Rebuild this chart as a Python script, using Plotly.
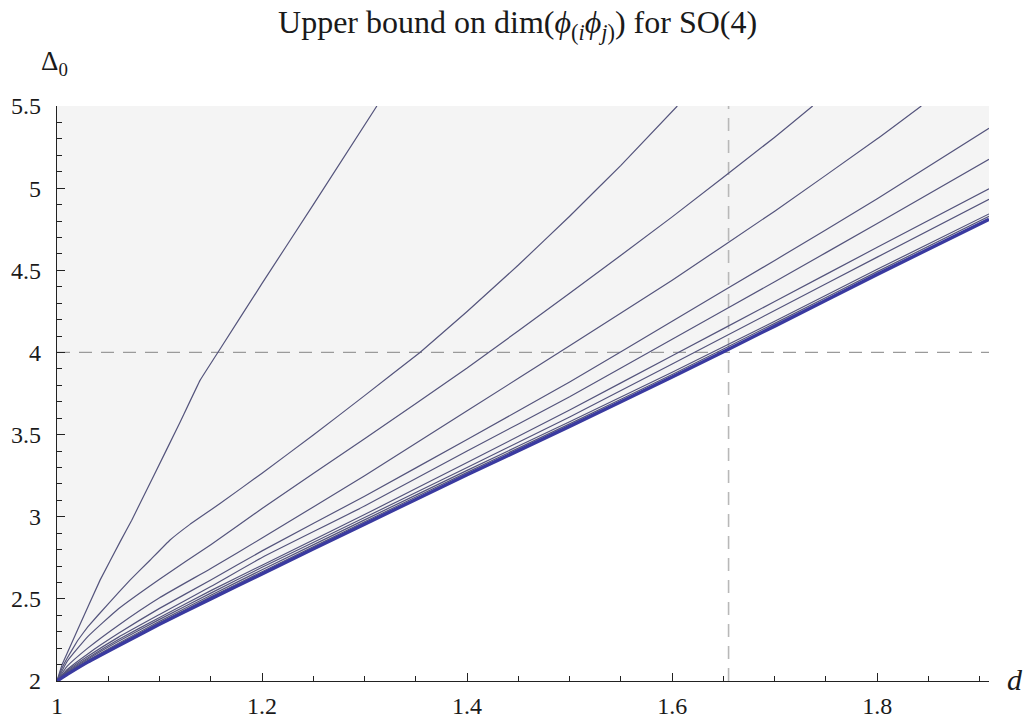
import plotly.graph_objects as go

# ---------------- data ----------------
X_MIN, X_MAX = 1.0, 1.909
Y_MIN, Y_MAX = 2.0, 5.5
D_STAR = 1.655
DELTA_STAR = 4.0

x_tickvals = [1, 1.2, 1.4, 1.6, 1.8]
x_ticktext = ["1", "1.2", "1.4", "1.6", "1.8"]
y_tickvals = [2, 2.5, 3, 3.5, 4, 4.5, 5, 5.5]
y_ticktext = ["2", "2.5", "3", "3.5", "4", "4.5", "5", "5.5"]

# best bound (thick curve)
bound_d = [1.0, 1.01, 1.03, 1.06, 1.1, 1.15, 1.2, 1.3, 1.4, 1.5, 1.6, 1.7, 1.8, 1.909]
bound_delta = [2.0, 2.04, 2.115, 2.215, 2.345, 2.50, 2.652, 2.955, 3.255, 3.55, 3.85, 4.16, 4.475, 4.81]

# weaker bounds (thin curves)
c1_d = [1.0, 1.005, 1.01, 1.02, 1.042, 1.0615, 1.0729, 1.094, 1.12, 1.1395, 1.16, 1.2, 1.25, 1.312]
c1_delta = [2.0, 2.1, 2.17, 2.31, 2.614, 2.847, 2.979, 3.245, 3.575, 3.83, 4.03, 4.42, 4.90, 5.5]

c2_d = [1.0, 1.005, 1.01, 1.02, 1.03, 1.05, 1.0712, 1.0907, 1.11, 1.13, 1.159, 1.2, 1.25, 1.3,
        1.354, 1.4, 1.45, 1.5, 1.55, 1.605]
c2_delta = [2.0, 2.08, 2.14, 2.245, 2.33, 2.47, 2.614, 2.735, 2.857, 2.955, 3.08, 3.265, 3.497,
            3.737, 4.0, 4.249, 4.532, 4.829, 5.139, 5.5]

c3_d = [1.0, 1.01, 1.03, 1.06, 1.1, 1.15, 1.2, 1.3, 1.4, 1.5, 1.6, 1.7, 1.737]
c3_delta = [2.0, 2.12, 2.27, 2.44, 2.62, 2.83, 3.05, 3.475, 3.905, 4.36, 4.825, 5.31, 5.5]

c4_d = [1.0, 1.01, 1.03, 1.06, 1.1, 1.15, 1.2, 1.3, 1.4, 1.5, 1.6, 1.7, 1.8, 1.843]
c4_delta = [2.0, 2.09, 2.20, 2.34, 2.507, 2.685, 2.87, 3.25, 3.645, 4.04, 4.44, 4.86, 5.30, 5.5]

common_d = [1.0, 1.01, 1.03, 1.06, 1.1, 1.15, 1.2, 1.3, 1.4, 1.5, 1.6, 1.7, 1.8, 1.909]
c5_delta = [2.0, 2.07, 2.165, 2.29, 2.442, 2.615, 2.792, 3.125, 3.47, 3.82, 4.19, 4.56, 4.935, 5.364]
c6_delta = [2.0, 2.062, 2.15, 2.267, 2.405, 2.575, 2.752, 3.065, 3.40, 3.73, 4.08, 4.43, 4.785, 5.175]
c7_delta = [2.0, 2.056, 2.14, 2.252, 2.387, 2.55, 2.705, 3.013, 3.33, 3.65, 3.98, 4.31, 4.64, 4.996]
c8_delta = [2.0, 2.052, 2.133, 2.242, 2.375, 2.535, 2.692, 2.995, 3.30, 3.607, 3.93, 4.255, 4.58, 4.932]
c9_delta = [2.0, 2.047, 2.125, 2.23, 2.363, 2.522, 2.677, 2.981, 3.282, 3.578, 3.879, 4.19, 4.506, 4.843]
c10_delta = [2.0, 2.043, 2.12, 2.223, 2.355, 2.512, 2.665, 2.969, 3.27, 3.565, 3.866, 4.177, 4.492, 4.828]

kinked_curves = [(c1_d, c1_delta), (c2_d, c2_delta)]
smooth_curves = [
    (c3_d, c3_delta), (c4_d, c4_delta),
    (common_d, c5_delta), (common_d, c6_delta), (common_d, c7_delta),
    (common_d, c8_delta), (common_d, c9_delta), (common_d, c10_delta),
]

# ---------------- style ----------------
FONT = "Liberation Serif, Times New Roman, DejaVu Serif, serif"
TEXT_COLOR = "#1a1a1a"
THIN_COLOR = "#54547c"
THICK_COLOR = "#3a3aa0"
FILL_COLOR = "#f4f4f4"

fig = go.Figure()

# excluded region (above best bound)
fig.add_trace(go.Scatter(x=bound_d, y=bound_delta, mode="lines",
                         line=dict(width=0, shape="spline", smoothing=0.4),
                         hoverinfo="skip", showlegend=False))
fig.add_trace(go.Scatter(x=bound_d, y=[Y_MAX] * len(bound_d), mode="lines",
                         line=dict(width=0), fill="tonexty", fillcolor=FILL_COLOR,
                         hoverinfo="skip", showlegend=False))

# dashed reference lines
fig.add_trace(go.Scatter(x=[X_MIN, X_MAX], y=[DELTA_STAR, DELTA_STAR], mode="lines",
                         line=dict(color="#9a9a9a", width=1.3, dash="13px,9px"),
                         hoverinfo="skip", showlegend=False))
fig.add_trace(go.Scatter(x=[D_STAR, D_STAR], y=[Y_MIN, Y_MAX], mode="lines",
                         line=dict(color="#b8b8b8", width=1.6, dash="13px,9px"),
                         hoverinfo="skip", showlegend=False))

for d, delta in kinked_curves:
    fig.add_trace(go.Scatter(x=d, y=delta, mode="lines",
                             line=dict(color=THIN_COLOR, width=1.2, shape="spline", smoothing=0.15),
                             showlegend=False))
for d, delta in smooth_curves:
    fig.add_trace(go.Scatter(x=d, y=delta, mode="lines",
                             line=dict(color=THIN_COLOR, width=1.2, shape="spline", smoothing=0.4),
                             showlegend=False))

fig.add_trace(go.Scatter(x=bound_d, y=bound_delta, mode="lines",
                         line=dict(color=THICK_COLOR, width=3.4, shape="spline", smoothing=0.4),
                         showlegend=False))

fig.update_layout(
    width=1029, height=718,
    margin=dict(l=57, r=40, t=106, b=37),
    paper_bgcolor="white", plot_bgcolor="white",
    font=dict(family=FONT, size=24, color=TEXT_COLOR),
    title=dict(
        text="Upper bound on dim(<i>ϕ</i><sub>(<i>i</i></sub><i>ϕ</i><sub><i>j</i>)</sub>) for SO(4)",
        x=0.503, xanchor="center", xref="container",
        y=0.969, yanchor="middle", yref="container",
        font=dict(family=FONT, size=32, color=TEXT_COLOR),
    ),
    annotations=[
        dict(text="Δ<sub>0</sub>", xref="paper", yref="paper", x=0.0, y=1.0,
             xanchor="left", yanchor="bottom", yshift=24, xshift=-18, showarrow=False,
             font=dict(family=FONT, size=27, color=TEXT_COLOR)),
        dict(text="<i>d</i>", xref="paper", yref="paper", x=1.0, y=0.0,
             xanchor="left", yanchor="middle", xshift=16, yshift=2, showarrow=False,
             font=dict(family=FONT, size=30, color=TEXT_COLOR)),
    ],
)

fig.update_xaxes(
    range=[X_MIN, X_MAX], showgrid=False, zeroline=False, automargin=False,
    showline=True, linecolor="#222", linewidth=1.2,
    tickmode="array", tickvals=x_tickvals, ticktext=x_ticktext,
    ticks="inside", ticklen=8, tickwidth=1.1, tickcolor="#222",
    minor=dict(dtick=0.05, tick0=1.0, ticks="inside", ticklen=5, tickwidth=1, tickcolor="#222", showgrid=False),
    ticklabelstandoff=3,
)
fig.update_yaxes(
    range=[Y_MIN, Y_MAX], showgrid=False, zeroline=False, automargin=False,
    showline=True, linecolor="#222", linewidth=1.2,
    tickmode="array", tickvals=y_tickvals, ticktext=y_ticktext,
    ticks="inside", ticklen=8, tickwidth=1.1, tickcolor="#222",
    minor=dict(dtick=0.1, tick0=2.0, ticks="inside", ticklen=5, tickwidth=1, tickcolor="#222", showgrid=False),
    ticklabelstandoff=10,
)

fig.write_html("out.html", config={"displayModeBar": False},
               post_script="document.body.style.margin='0px';")
